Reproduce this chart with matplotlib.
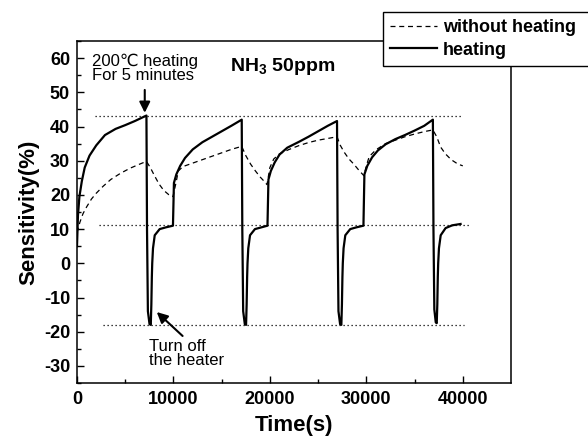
import matplotlib
matplotlib.use("Agg")
import matplotlib.pyplot as plt
from matplotlib.lines import Line2D
from matplotlib.patches import Rectangle

plt.rcParams['font.family'] = ['Liberation Sans', 'DejaVu Sans']
plt.rcParams['axes.unicode_minus'] = False
plt.rcParams['mathtext.fontset'] = 'custom'
plt.rcParams['mathtext.rm'] = 'Liberation Sans:bold'
plt.rcParams['mathtext.bf'] = 'Liberation Sans:bold'

# heating (solid)
heat_t = [0, 100, 250, 500, 800, 1300, 2000, 2900, 4000, 5000, 6000, 7200,
          7260, 7350, 7520, 7650, 7710, 7760, 7800, 7880, 8060, 8570, 9200, 9950,
          10050, 10300, 10700, 11200, 12000, 13000, 14000, 15000, 16000, 17080,
          17140, 17230, 17400, 17530, 17590, 17640, 17680, 17760, 17940, 18450, 19100, 19750,
          19850, 20100, 20500, 21000, 21800, 23000, 24000, 25000, 26000, 26960,
          27020, 27110, 27280, 27410, 27470, 27520, 27560, 27640, 27820, 28330, 28950, 29700,
          29800, 30100, 30600, 31200, 32000, 33000, 34000, 35000, 36000, 36900,
          36960, 37050, 37200, 37300, 37360, 37410, 37450, 37530, 37710, 38220, 38900, 39770]
heat_v = [5, 14, 19.5, 24, 28, 31.5, 34.5, 37.5, 39.3, 40.4, 41.6, 43.2,
          10, -14, -17.8, -18, -12, -4, 0, 4.4, 8.2, 10, 10.5, 11,
          23.5, 26, 28.5, 30.8, 33.3, 35.4, 37, 38.6, 40.2, 42,
          10, -14, -17.8, -18, -12, -4, 0, 4.4, 8.2, 10, 10.5, 11,
          24.5, 27, 29.5, 31.8, 33.8, 35.5, 37, 38.6, 40.2, 41.6,
          10, -14, -17.8, -18, -12, -4, 0, 4.4, 8.2, 10, 10.5, 11,
          26, 28.5, 31, 33, 34.8, 36.3, 37.5, 38.8, 40.2, 42,
          10, -13.5, -17.3, -17.5, -12, -4, 0, 4.4, 8.2, 10.3, 11.1, 11.5]

# without heating (dashed)
noheat_t = [0, 300, 620, 1000, 1500, 2000, 2700, 3500, 4500, 5500, 6500, 7200,
            7600, 8000, 8500, 9000, 9500, 9950,
            10300, 10500, 11000, 12000, 13000, 14000, 15000, 16000, 17080,
            17500, 18000, 18500, 19000, 19400, 19700,
            20000, 20400, 21000, 22000, 23000, 24000, 25000, 26000, 26960,
            27300, 27700, 28200, 28700, 29200, 29750,
            30000, 30300, 31000, 32000, 33000, 34000, 35000, 36000, 36900,
            37300, 37700, 38200, 38800, 39500, 40000]
noheat_v = [9, 12, 14.5, 16.5, 18.8, 20.5, 22.5, 24.5, 26.3, 27.8, 29, 29.8,
            28, 25.8, 23.2, 21.3, 20.1, 19.5,
            24, 27, 28.3, 29.3, 30.3, 31.3, 32.3, 33.3, 34.2,
            31.5, 29, 27, 25.2, 24, 23,
            28, 30.5, 32, 33.3, 34.4, 35.3, 36, 36.5, 37,
            34.5, 32.5, 30.5, 29, 27.3, 25.6,
            28.5, 31.2, 33.2, 35, 36, 37, 37.8, 38.5, 39,
            37, 34, 32, 30.3, 29, 28.5]

# dotted guide levels
ref_levels = [43, 11.3, -18]
ref_start = [1900, 2300, 2700]
ref_end = [39900, 40800, 40100]

fig = plt.figure(figsize=(5.88, 4.43), dpi=100)
ax = fig.add_axes([77/588, 1-383/443, (511-77)/588, (383-41)/443])

for lev, s, e in zip(ref_levels, ref_start, ref_end):
    ax.plot([s, e], [lev, lev], color='black', linestyle=(0, (1, 2.2)), linewidth=0.9)

ax.plot(noheat_t, noheat_v, color='black', linestyle=(0, (4, 3)), linewidth=0.9)
ax.plot(heat_t, heat_v, color='black', linestyle='-', linewidth=1.6)

ax.set_xlim(0, 45000)
ax.set_ylim(-35, 65)
ax.set_xticks([0, 10000, 20000, 30000, 40000])
ax.set_xticks([5000, 15000, 25000, 35000], minor=True)
ax.set_yticks([-30, -20, -10, 0, 10, 20, 30, 40, 50, 60])
ax.set_yticks([-35, -25, -15, -5, 5, 15, 25, 35, 45, 55, 65], minor=True)
ax.tick_params(which='both', direction='in', width=1)
ax.tick_params(which='major', length=5)
ax.tick_params(which='minor', length=3)
ax.tick_params(axis='x', pad=6, labelsize=13)
ax.tick_params(axis='y', pad=5, labelsize=13)
for lab in ax.get_xticklabels() + ax.get_yticklabels():
    lab.set_fontweight('bold')
for sp in ax.spines.values():
    sp.set_linewidth(1.1)

ax.set_xlabel("Time(s)", fontsize=16, fontweight='bold', labelpad=5)
ax.set_ylabel("Sensitivity(%)", fontsize=16, fontweight='bold', labelpad=3)

ax.text(1550, 57, "200\u2103 heating\nFor 5 minutes", fontsize=12,
        ha='left', va='center', linespacing=0.95)
ax.annotate("", xy=(7025, 43.2), xytext=(7025, 51.5),
            arrowprops=dict(arrowstyle='-|>', color='black', lw=1.5, mutation_scale=16))
ax.text(21300, 57.6, r"NH$_{3}$ 50ppm", fontsize=14, fontweight='bold',
        ha='center', va='center')
ax.text(7450, -26.3, "Turn off\nthe heater", fontsize=12,
        ha='left', va='center', linespacing=0.95)
ax.annotate("", xy=(8060, -13.7), xytext=(11160, -21.8),
            arrowprops=dict(arrowstyle='-|>', color='black', lw=1.5, mutation_scale=16))

# legend box running off the right edge
box = Rectangle((383/588, 1-66/443), 0.4, (66-12)/443, transform=fig.transFigure,
                facecolor='white', edgecolor='black', linewidth=1.0, zorder=3, clip_on=False)
fig.patches.append(box)
handles = [Line2D([], [], color='black', linestyle=(0, (4, 3)), linewidth=0.9),
           Line2D([], [], color='black', linestyle='-', linewidth=1.6)]
leg = fig.legend(handles, ["without heating", "heating"], loc='upper left',
                 bbox_to_anchor=(383/588, 1-12/443), frameon=False, borderaxespad=0,
                 borderpad=0.4, handlelength=2.6, handletextpad=0.3, labelspacing=0.3,
                 prop={'weight': 'bold', 'size': 13})
leg.set_zorder(4)

fig.savefig("out.png", dpi=100)
